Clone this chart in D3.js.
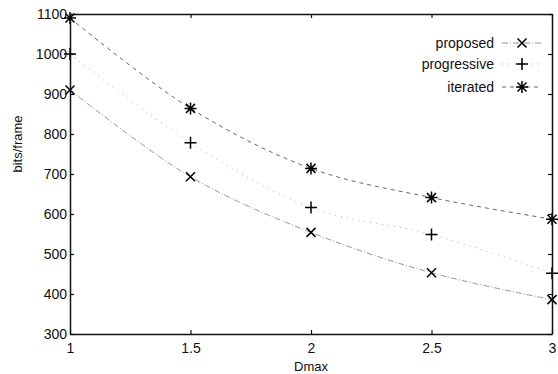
<!DOCTYPE html>
<html>
<head>
<meta charset="utf-8">
<script src="https://cdn.jsdelivr.net/npm/d3@7"></script>
<style>
body { margin: 0; background: #fff; }
text { font-family: "Liberation Sans", Arial, sans-serif; fill: #111; }
</style>
</head>
<body>
<div id="chart"></div>
<script>
// chart data
var dmax = [1, 1.5, 2, 2.5, 3];
var proposed = [910, 693, 554, 453, 386];
var progressive = [1000, 778, 616, 549, 452];
var iterated = [1090, 864, 714, 641, 587];
var xTicks = [1, 1.5, 2, 2.5, 3];
var yTicks = [300, 400, 500, 600, 700, 800, 900, 1000, 1100];

var width = 558, height = 374;
var margin = {left: 70, right: 6, top: 14, bottom: 40};

var svg = d3.select("#chart").append("svg")
    .attr("width", width)
    .attr("height", height);

var x = d3.scaleLinear().domain([1, 3]).range([margin.left, width - margin.right]);
var y = d3.scaleLinear().domain([300, 1100]).range([height - margin.bottom, margin.top]);

// series definitions (line style + marker)
var series = [
    {name: "proposed", values: proposed, dash: "6,2,1,2", color: "#999", marker: "x"},
    {name: "progressive", values: progressive, dash: "1,5", color: "#aaa", marker: "plus"},
    {name: "iterated", values: iterated, dash: "4,4", color: "#666", marker: "star"}
];

var line = d3.line()
    .x(function(d, i){ return x(dmax[i]); })
    .y(function(d){ return y(d); })
    .curve(d3.curveCatmullRom);

series.forEach(function(s){
    svg.append("path")
        .attr("d", line(s.values))
        .attr("fill", "none")
        .attr("stroke", s.color)
        .attr("stroke-width", 1)
        .attr("stroke-dasharray", s.dash);
});

// markers
function drawMarker(g, type, cx, cy){
    var r = 4.5;
    var p = d3.path();
    if(type == "x" || type == "star"){
        p.moveTo(cx - r, cy - r); p.lineTo(cx + r, cy + r);
        p.moveTo(cx - r, cy + r); p.lineTo(cx + r, cy - r);
    }
    if(type == "plus" || type == "star"){
        var rr = r + 1.5;
        p.moveTo(cx - rr, cy); p.lineTo(cx + rr, cy);
        p.moveTo(cx, cy - rr); p.lineTo(cx, cy + rr);
    }
    g.append("path")
        .attr("d", p.toString())
        .attr("stroke", "#000")
        .attr("stroke-width", 1.5)
        .attr("fill", "none");
}

series.forEach(function(s){
    var g = svg.append("g");
    s.values.forEach(function(v, i){
        drawMarker(g, s.marker, x(dmax[i]), y(v));
    });
});

// axes box with inward ticks on all sides
var tickLen = 4;
svg.append("g")
    .attr("transform", "translate(0," + y(300) + ")")
    .call(d3.axisBottom(x).tickValues(xTicks).tickSizeInner(-tickLen).tickSizeOuter(0).tickPadding(9)
        .tickFormat(d3.format("")));
svg.append("g")
    .attr("transform", "translate(0," + y(1100) + ")")
    .call(d3.axisTop(x).tickValues(xTicks).tickSizeInner(-tickLen).tickSizeOuter(0).tickFormat(""));
svg.append("g")
    .attr("transform", "translate(" + x(1) + ",0)")
    .call(d3.axisLeft(y).tickValues(yTicks).tickSizeInner(-tickLen).tickSizeOuter(0).tickPadding(3)
        .tickFormat(d3.format("d")));
svg.append("g")
    .attr("transform", "translate(" + x(3) + ",0)")
    .call(d3.axisRight(y).tickValues(yTicks).tickSizeInner(-tickLen).tickSizeOuter(0).tickFormat(""));

svg.selectAll(".domain").attr("stroke", "#111").attr("stroke-width", 1.5);
svg.selectAll(".tick line").attr("stroke", "#111").attr("stroke-width", 1.2);
svg.selectAll(".tick text").style("font-size", "14px").attr("fill", "#111");

// axis titles
svg.append("text")
    .attr("x", x(2))
    .attr("y", 371)
    .attr("text-anchor", "middle")
    .style("font-size", "13px")
    .text("Dmax");

svg.append("text")
    .attr("transform", "translate(22," + y(775) + ") rotate(-90)")
    .attr("text-anchor", "middle")
    .style("font-size", "13px")
    .text("bits/frame");

// legend
var legendY = [43, 64, 87];
series.forEach(function(s, i){
    svg.append("text")
        .attr("x", 494)
        .attr("y", legendY[i])
        .attr("dy", "0.35em")
        .attr("text-anchor", "end")
        .style("font-size", "14px")
        .text(s.name);
    svg.append("line")
        .attr("x1", 502).attr("x2", 542)
        .attr("y1", legendY[i]).attr("y2", legendY[i])
        .attr("stroke", s.color)
        .attr("stroke-dasharray", s.dash);
    drawMarker(svg, s.marker, 522, legendY[i]);
});
</script>
</body>
</html>
